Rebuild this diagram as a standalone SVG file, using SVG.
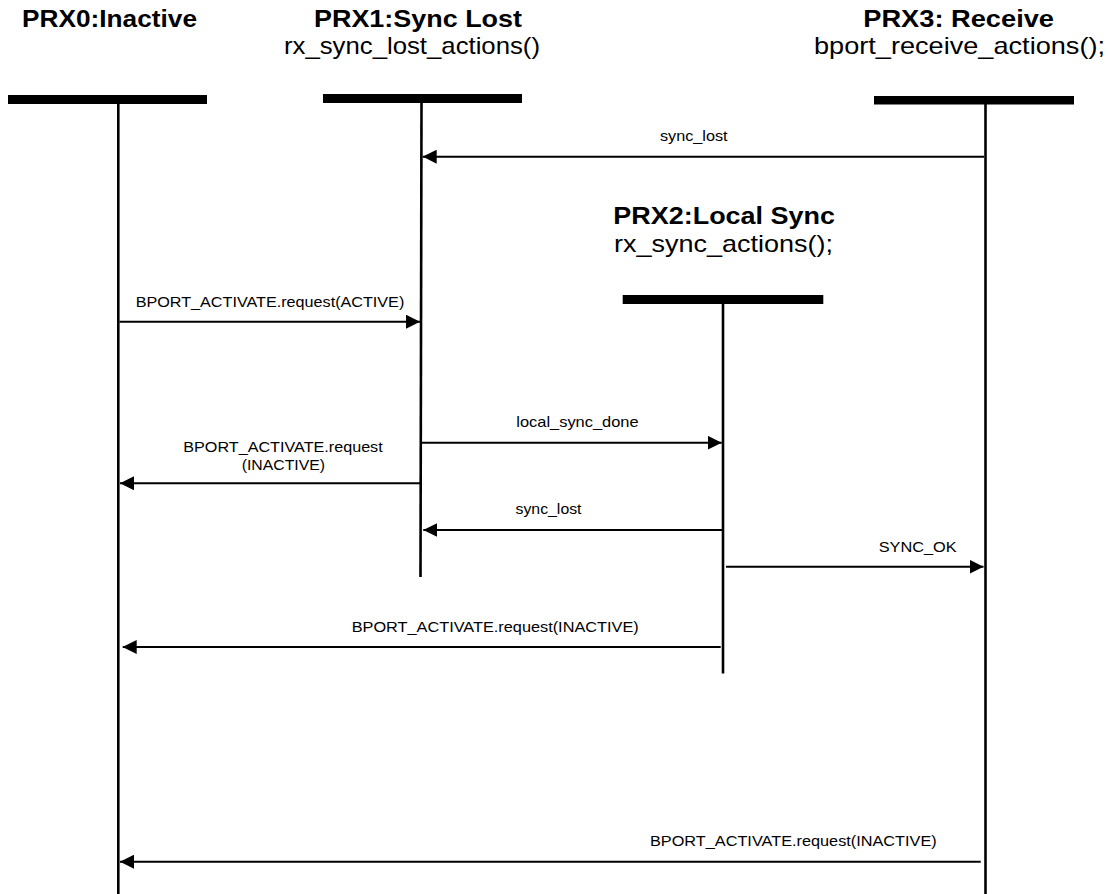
<svg xmlns="http://www.w3.org/2000/svg" width="1109" height="894" viewBox="0 0 1109 894">
<style>
.bar{fill:#000}
.life{stroke:#000;stroke-width:2.6;fill:none}
.msg{stroke:#000;stroke-width:2;fill:none;marker-end:url(#ah)}
.h{font-family:"Liberation Sans",Arial,sans-serif;font-size:24px;font-weight:bold;fill:#000}
.s{font-family:"Liberation Sans",Arial,sans-serif;font-size:24px;fill:#000}
.l{font-family:"Liberation Sans",Arial,sans-serif;font-size:15px;fill:#000}
</style>
<defs>
<marker id="ah" markerUnits="userSpaceOnUse" markerWidth="14" markerHeight="14" refX="14" refY="7" orient="auto">
<path d="M0,0 L14,7 L0,14 z" fill="#000"/>
</marker>
</defs>
<rect width="1109" height="894" fill="#fff"/>
<g id="prx0">
<text class="h" x="22" y="26.5" textLength="175" lengthAdjust="spacingAndGlyphs">PRX0:Inactive</text>
<rect class="bar" x="8" y="95" width="199" height="9"/>
<line class="life" x1="118.3" y1="104" x2="118.3" y2="894"/>
</g>
<g id="prx1">
<text class="h" x="314" y="26.5" textLength="208" lengthAdjust="spacingAndGlyphs">PRX1:Sync Lost</text>
<text class="s" x="284" y="54" textLength="256" lengthAdjust="spacingAndGlyphs">rx_sync_lost_actions()</text>
<rect class="bar" x="323" y="94" width="199" height="9"/>
<line class="life" x1="421.5" y1="103" x2="420.5" y2="577"/>
</g>
<g id="prx2">
<text class="h" x="613.3" y="224" textLength="221.7" lengthAdjust="spacingAndGlyphs">PRX2:Local Sync</text>
<text class="s" x="614" y="252" textLength="219" lengthAdjust="spacingAndGlyphs">rx_sync_actions();</text>
<rect class="bar" x="622.7" y="295" width="200.6" height="9"/>
<line class="life" x1="723" y1="304" x2="723" y2="673.5"/>
</g>
<g id="prx3">
<text class="h" x="863.3" y="26.5" textLength="190.7" lengthAdjust="spacingAndGlyphs">PRX3: Receive</text>
<text class="s" x="814" y="54" textLength="291" lengthAdjust="spacingAndGlyphs">bport_receive_actions();</text>
<rect class="bar" x="874" y="96" width="200" height="8.5"/>
<line class="life" x1="985.5" y1="104" x2="985.5" y2="894"/>
</g>
<g id="connectors">
<line class="msg" x1="984" y1="156.7" x2="422.7" y2="156.7"/>
<text class="l" x="660" y="141" textLength="67.6" lengthAdjust="spacingAndGlyphs">sync_lost</text>
<line class="msg" x1="119.5" y1="321.7" x2="420" y2="321.7"/>
<text class="l" x="135.7" y="307" textLength="268.6" lengthAdjust="spacingAndGlyphs">BPORT_ACTIVATE.request(ACTIVE)</text>
<line class="msg" x1="421.5" y1="442.7" x2="721.7" y2="442.7"/>
<text class="l" x="516.3" y="427" textLength="122.3" lengthAdjust="spacingAndGlyphs">local_sync_done</text>
<line class="msg" x1="420" y1="483.3" x2="120" y2="483.3"/>
<text class="l" x="183.3" y="452" textLength="199.4" lengthAdjust="spacingAndGlyphs">BPORT_ACTIVATE.request</text>
<text class="l" x="241.7" y="470" textLength="83.3" lengthAdjust="spacingAndGlyphs">(INACTIVE)</text>
<line class="msg" x1="722" y1="530" x2="423.3" y2="530"/>
<text class="l" x="515.5" y="514" textLength="66" lengthAdjust="spacingAndGlyphs">sync_lost</text>
<line class="msg" x1="726" y1="566.7" x2="983.5" y2="566.7"/>
<text class="l" x="878.7" y="551.7" textLength="78" lengthAdjust="spacingAndGlyphs">SYNC_OK</text>
<line class="msg" x1="720.7" y1="647" x2="122.7" y2="647"/>
<text class="l" x="351.7" y="632" textLength="287" lengthAdjust="spacingAndGlyphs">BPORT_ACTIVATE.request(INACTIVE)</text>
<line class="msg" x1="980.7" y1="861.7" x2="120" y2="861.7"/>
<text class="l" x="650" y="846" textLength="286.7" lengthAdjust="spacingAndGlyphs">BPORT_ACTIVATE.request(INACTIVE)</text>
</g>
</svg>
